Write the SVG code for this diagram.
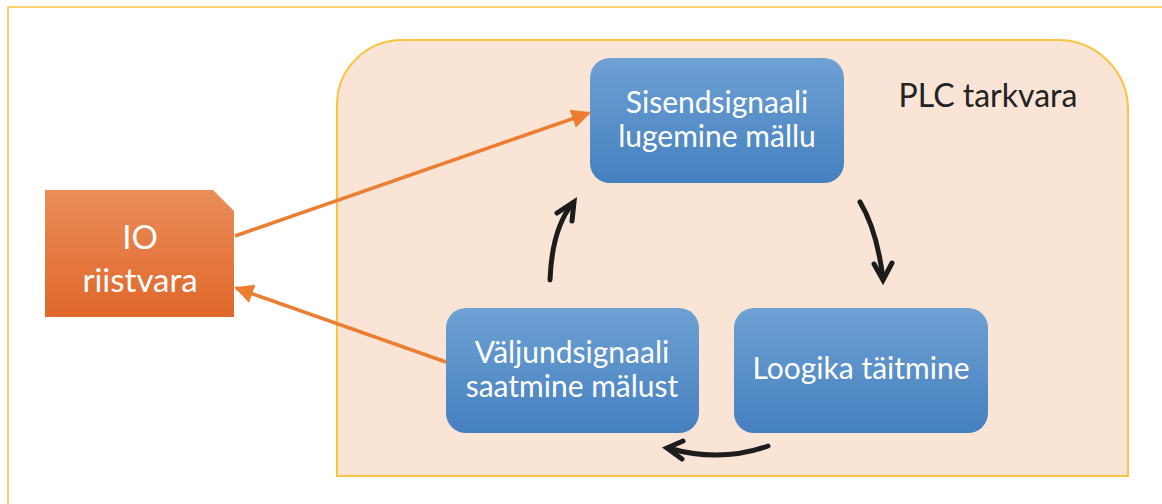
<svg xmlns="http://www.w3.org/2000/svg" width="1162" height="504" viewBox="0 0 1162 504">
  <defs>
    <linearGradient id="blueFill" x1="0" y1="0" x2="0" y2="1">
      <stop offset="0" stop-color="#6EA1D4"/>
      <stop offset="1" stop-color="#4580BF"/>
    </linearGradient>
    <linearGradient id="orangeFill" x1="0" y1="0" x2="0" y2="1">
      <stop offset="0" stop-color="#EA8D5A"/>
      <stop offset="1" stop-color="#E0672A"/>
    </linearGradient>
    <marker id="orangeHead" viewBox="0 0 10 10" refX="9" refY="5" markerWidth="5.5" markerHeight="5.5" orient="auto" markerUnits="strokeWidth">
      <path d="M0 0 L10 5 L0 10 Z" fill="#ED7D31"/>
    </marker>
    <style>
      .box text { font-family: Lato, "Open Sans", "Liberation Sans", sans-serif; font-size: 30px; fill: #FFFFFF; text-anchor: middle; }
      .orange { stroke: #ED7D31; stroke-width: 3.5; fill: none; marker-end: url(#orangeHead); }
      .cycle { stroke: #1C1C1C; stroke-width: 5; fill: none; stroke-linecap: round; }
      .head { stroke: #1C1C1C; stroke-width: 5; fill: none; stroke-linecap: round; stroke-linejoin: miter; }
    </style>
  </defs>

  <rect width="1162" height="504" fill="#FFFFFF"/>
  <!-- page frame -->
  <rect x="8" y="7" width="1170" height="520" fill="none" stroke="#FAC443" stroke-width="1.5"/>

  <!-- software container -->
  <g id="plc">
    <path d="M337 476 L337 105 A65 65 0 0 1 402 40 L1058 40 A70 70 0 0 1 1128 110 L1128 476 Z" fill="#FAE4D6" stroke="#FAC443" stroke-width="2"/>
    <text x="988" y="107" font-family="Lato, 'Open Sans', 'Liberation Sans', sans-serif" font-size="32" fill="#222222" text-anchor="middle">PLC tarkvara</text>
  </g>

  <!-- IO hardware -->
  <g id="io" class="box">
    <path d="M45 190 L213 190 L234 211 L234 317 L45 317 Z" fill="url(#orangeFill)"/>
    <text x="140" y="249" style="font-size:33px">IO</text>
    <text x="140" y="292" style="font-size:33px">riistvara</text>
  </g>

  <g id="read" class="box">
    <rect x="590" y="58" width="254" height="125" rx="20" fill="url(#blueFill)"/>
    <text x="717" y="113">Sisendsignaali</text>
    <text x="717" y="147">lugemine mällu</text>
  </g>

  <g id="write" class="box">
    <rect x="446" y="308" width="253" height="125" rx="20" fill="url(#blueFill)"/>
    <text x="572" y="363">Väljundsignaali</text>
    <text x="572" y="397">saatmine mälust</text>
  </g>

  <g id="logic" class="box">
    <rect x="734" y="308" width="254" height="125" rx="20" fill="url(#blueFill)"/>
    <text x="861" y="379">Loogika täitmine</text>
  </g>

  <!-- connectors -->
  <g id="connectors">
    <line class="orange" x1="235" y1="236" x2="589" y2="113"/>
    <line class="orange" x1="446" y1="362" x2="236" y2="288"/>

    <path class="cycle" d="M550 280 Q552 228 573 203"/>
    <polyline class="head" points="557,213 574,202 572,221"/>

    <path class="cycle" d="M860 202 Q877 230 883 279"/>
    <polyline class="head" points="874,264 883,280 892,263"/>

    <path class="cycle" d="M768 446 Q720 463 668 448"/>
    <polyline class="head" points="683,441 667,448 682,459"/>
  </g>
</svg>
